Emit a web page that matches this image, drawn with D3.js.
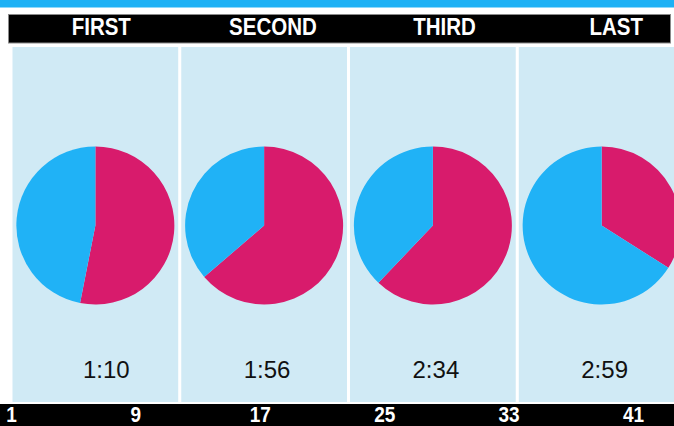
<!DOCTYPE html>
<html>
<head>
<meta charset="utf-8">
<script src="https://cdn.jsdelivr.net/npm/d3@7"></script>
<style>
  html, body { margin: 0; padding: 0; background: #fff; overflow: hidden; }
  svg { display: block; }
</style>
</head>
<body>
<svg id="chart" width="674" height="426"></svg>
<script>
// ---- data ----
const stages = ["FIRST", "SECOND", "THIRD", "LAST"];
const pinkShare = [53.1, 63.7, 62.1, 34.0];
const blueShare = [46.9, 36.3, 37.9, 66.0];
const timeLabels = ["1:10", "1:56", "2:34", "2:59"];
const axisTicks = [1, 9, 17, 25, 33, 41];

// ---- styles ----
const PINK = "#D81B6C";
const BLUE = "#20B2F6";
const PANEL = "#D0EAF5";
const FONT = "'Liberation Sans', Arial, Helvetica, sans-serif";

const W = 674, H = 426;
const svg = d3.select("#chart");

// top blue strip
svg.append("rect").attr("x", 0).attr("y", 0).attr("width", W).attr("height", 7.5).attr("fill", "#1EB1F5");

// panels via band scale
const xBand = d3.scaleBand().domain(stages).range([12.5, 684.5]).paddingInner(0.018).paddingOuter(0);
const panelTop = 47, panelBottom = 402;

svg.selectAll("rect.panel").data(stages).join("rect")
  .attr("class", "panel")
  .attr("x", d => xBand(d))
  .attr("y", panelTop)
  .attr("width", xBand.bandwidth())
  .attr("height", panelBottom - panelTop)
  .attr("fill", PANEL);

// header band
svg.append("rect").attr("x", 8.5).attr("y", 14.5).attr("width", 662).attr("height", 28.5)
  .attr("fill", "#000").attr("stroke", "#8a8a8a").attr("stroke-width", 1);

const headerX = d3.scalePoint().domain(stages).range([101.3, 616.2]);
svg.selectAll("text.head").data(stages).join("text")
  .attr("class", "head")
  .attr("transform", d => `translate(${headerX(d)},35) scale(1,1.13)`)
  .attr("text-anchor", "middle")
  .attr("fill", "#fff")
  .attr("font-family", FONT)
  .attr("font-weight", "bold")
  .attr("font-size", 20.5)
  .text(d => d);

// pies
const pie = d3.pie().sort(null).value(d => d.v);
const arc = d3.arc().innerRadius(0).outerRadius(79);
const cy = 225.5;

stages.forEach((s, i) => {
  const cx = xBand(s) + xBand.bandwidth() / 2;
  const g = svg.append("g").attr("transform", `translate(${cx},${cy})`);
  const slices = pie([{ k: "pink", v: pinkShare[i] }, { k: "blue", v: blueShare[i] }]);
  g.selectAll("path").data(slices).join("path")
    .attr("d", arc)
    .attr("fill", d => d.data.k === "pink" ? PINK : BLUE);
  svg.append("text")
    .attr("x", cx + (i === 0 ? 11 : 3))
    .attr("y", 378)
    .attr("text-anchor", "middle")
    .attr("font-family", FONT)
    .attr("font-size", 24)
    .attr("fill", "#111")
    .text(timeLabels[i]);
});

// bottom axis band
svg.append("rect").attr("x", 0).attr("y", 404).attr("width", W).attr("height", H - 404).attr("fill", "#000");

const xLap = d3.scaleLinear().domain([1, 41]).range([11, 633]);
const axis = d3.axisBottom(xLap).tickValues(axisTicks).tickSize(0).tickFormat(d3.format("d"));
const ag = svg.append("g").attr("transform", "translate(0,0)").call(axis);
ag.select(".domain").remove();
ag.selectAll(".tick text")
  .attr("y", 0).attr("dy", null)
  .attr("transform", "translate(0,421.5) scale(1,1.12)")
  .attr("fill", "#fff")
  .attr("font-family", FONT)
  .attr("font-weight", "bold")
  .attr("font-size", 19);
</script>
</body>
</html>
